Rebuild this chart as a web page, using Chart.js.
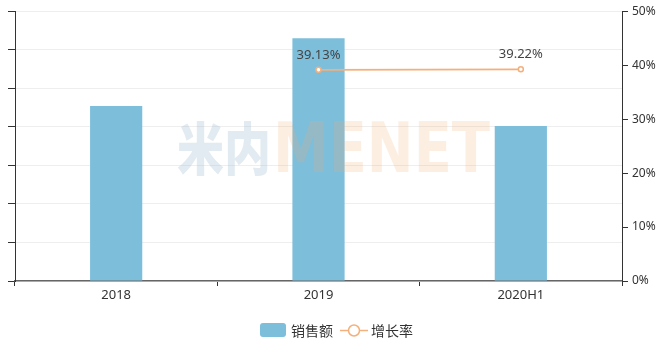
<!DOCTYPE html>
<html>
<head>
<meta charset="utf-8">
<script src="https://cdn.jsdelivr.net/npm/chart.js@4"></script>
<style>
  html,body{margin:0;padding:0;background:#fff;}
  #wrap{position:relative;width:666px;height:341px;}
  #legend{position:absolute;left:0;top:320px;width:666px;height:20px;font-family:"Noto Sans CJK SC","Noto Sans",sans-serif;font-size:14px;color:#333;}
  .item{position:absolute;top:0;height:20px;line-height:20px;}
  .box{position:absolute;width:26px;height:14px;border-radius:3px;background:#7dbedb;top:3px;}
</style>
</head>
<body>
<div id="wrap">
<canvas id="c" width="666" height="341"></canvas>
<div id="legend">
  <div class="box" style="left:260px;"></div>
  <div class="item" style="left:291px;">销售额</div>
  <canvas id="lineIcon" width="28" height="20" style="position:absolute;left:340px;top:0;"></canvas>
  <div class="item" style="left:371px;">增长率</div>
</div>
</div>
<script>
const categories = ['2018', '2019', '2020H1'];
const salesValues = [4.54, 6.30, 4.02];
const growthValues = [null, 39.13, 39.22];
const percentTicks = ['0%', '10%', '20%', '30%', '40%', '50%'];
const seriesNames = ['销售额', '增长率'];
const watermarkParts = ['米内', 'MENET'];

const BAR = '#7dbedb';
const LINE = '#f4b07c';
const FONT = '"Noto Sans", "Noto Sans CJK SC", sans-serif';

// legend icon for line series
(function(){
  const ic = document.getElementById('lineIcon').getContext('2d');
  ic.strokeStyle = LINE; ic.lineWidth = 1.5;
  ic.beginPath(); ic.moveTo(0,10.5); ic.lineTo(28,10.5); ic.stroke();
  ic.fillStyle = '#fff';
  ic.beginPath(); ic.arc(14,10.5,5.5,0,Math.PI*2); ic.fill(); ic.stroke();
})();

const watermark = {
  id: 'watermark',
  afterDatasetsDraw(chart) {
    const ctx = chart.ctx;
    ctx.save();
    ctx.textBaseline = 'alphabetic';
    ctx.font = '900 60px "Noto Sans CJK SC", sans-serif';
    const w1 = ctx.measureText(watermarkParts[0]).width;
    ctx.save();
    ctx.translate(177, 170);
    ctx.scale(94 / w1, 0.95);
    ctx.fillStyle = 'rgba(160,190,210,0.3)';
    ctx.fillText(watermarkParts[0], 0, 0);
    ctx.restore();
    ctx.font = 'bold 70px "DejaVu Sans", sans-serif';
    const w2 = ctx.measureText(watermarkParts[1]).width;
    ctx.save();
    ctx.translate(273, 172);
    ctx.scale(217 / w2, 50 / 51);
    ctx.fillStyle = 'rgba(245,170,110,0.2)';
    ctx.fillText(watermarkParts[1], 0, 0);
    ctx.restore();
    ctx.restore();
  }
};

const labelsPlugin = {
  id: 'valueLabels',
  afterDatasetsDraw(chart) {
    const ctx = chart.ctx;
    const meta = chart.getDatasetMeta(1);
    ctx.save();
    ctx.font = '13px ' + FONT;
    ctx.fillStyle = '#444';
    ctx.textAlign = 'center';
    ctx.textBaseline = 'middle';
    meta.data.forEach((pt, i) => {
      const v = growthValues[i];
      if (v === null || v === undefined) return;
      ctx.fillText(v.toFixed(2) + '%', pt.x, pt.y - 15);
    });
    ctx.restore();
  }
};

new Chart(document.getElementById('c'), {
  type: 'bar',
  data: {
    labels: categories,
    datasets: [
      {
        label: seriesNames[0],
        data: salesValues,
        backgroundColor: BAR,
        yAxisID: 'y',
        barPercentage: 0.258,
        categoryPercentage: 1,
        order: 2
      },
      {
        type: 'line',
        label: seriesNames[1],
        data: growthValues,
        yAxisID: 'y1',
        borderColor: LINE,
        borderWidth: 1.8,
        pointBackgroundColor: '#fff',
        pointBorderColor: LINE,
        pointBorderWidth: 1.5,
        pointRadius: 2.5,
        tension: 0,
        order: 1
      }
    ]
  },
  options: {
    responsive: false,
    animation: false,
    layout: { padding: { top: 11, left: 0, right: 0, bottom: 0 } },
    plugins: { legend: { display: false }, tooltip: { enabled: false } },
    scales: {
      x: {
        grid: { display: true, drawOnChartArea: false, drawTicks: true, tickLength: 5, color: '#333', offset: true },
        border: { display: true, color: '#666', width: 1.5 },
        ticks: { color: '#333', font: { size: 13, family: FONT }, padding: 1 },
        afterFit(s) { s.height = 60; }
      },
      y: {
        position: 'left',
        min: 0, max: 7,
        ticks: { stepSize: 1, callback: () => '', padding: 0 },
        grid: { color: '#eeeeee', tickColor: '#333', tickLength: 7, drawTicks: true },
        border: { display: true, color: '#333' },
        afterFit(s) { s.width = 15; }
      },
      y1: {
        position: 'right',
        min: 0, max: 50,
        ticks: {
          stepSize: 10,
          color: '#333',
          font: { size: 12, family: FONT },
          padding: 4,
          callback: (v) => percentTicks[Math.round(v / 10)]
        },
        grid: { drawOnChartArea: false, color: '#333', tickLength: 6 },
        border: { display: true, color: '#333' },
        afterFit(s) { s.width = 44; }
      }
    }
  },
  plugins: [watermark, labelsPlugin]
});
</script>
</body>
</html>
